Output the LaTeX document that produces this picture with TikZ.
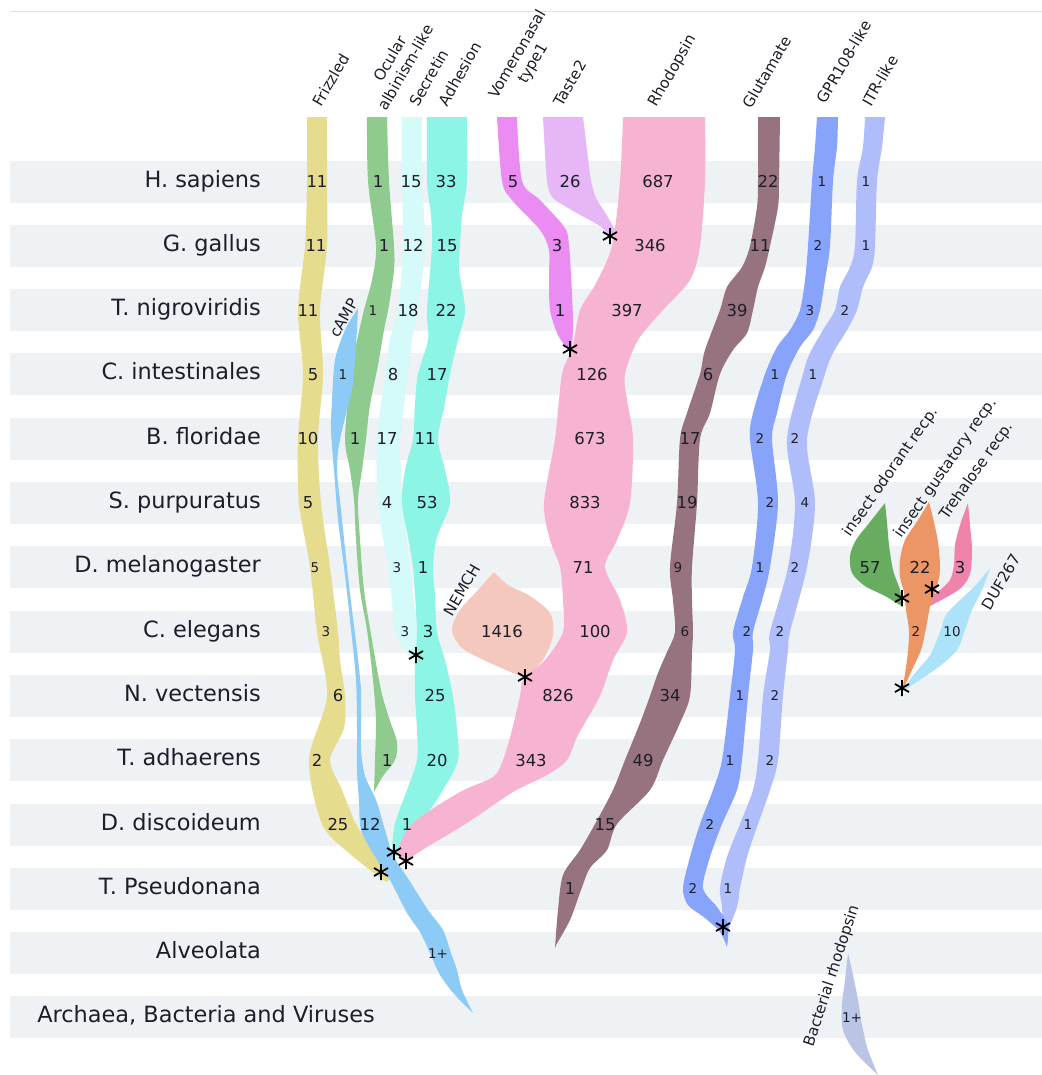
\documentclass[tikz,border=0pt]{standalone}
\usepackage{fontspec}
\setmainfont{DejaVu Sans}
\definecolor{stripe}{HTML}{EEF2F5}
\definecolor{cfz}{HTML}{E6DC8E}
\definecolor{coc}{HTML}{8FCA8F}
\definecolor{ccamp}{HTML}{8CCBF5}
\definecolor{csec}{HTML}{D4FAFA}
\definecolor{cadh}{HTML}{8CF5E6}
\definecolor{cvom}{HTML}{EA8CF2}
\definecolor{ctas}{HTML}{E6B6F6}
\definecolor{crho}{HTML}{F7B4D2}
\definecolor{cnem}{HTML}{F5C8BD}
\definecolor{cglu}{HTML}{97737F}
\definecolor{cgpr}{HTML}{88A3FA}
\definecolor{citr}{HTML}{AFBEFA}
\definecolor{cio}{HTML}{67AC5F}
\definecolor{cig}{HTML}{EB9664}
\definecolor{ctre}{HTML}{F083AC}
\definecolor{cduf}{HTML}{ADE3F8}
\definecolor{cbac}{HTML}{BAC5E6}
\definecolor{txt}{HTML}{1E1E2A}
\begin{document}
\begin{tikzpicture}[x=1bp,y=-1bp,
  num/.style={inner sep=0pt,text=txt,font=\fontsize{16.5}{19}\selectfont},
  species/.style={anchor=base east,inner sep=0pt,text=txt,font=\fontsize{22.5}{26}\selectfont},
  collab/.style={rotate=60,align=center,inner sep=0pt,text=txt,font=\fontsize{15.3}{18}\selectfont},
  ast/.pic={\draw[line width=1.8bp,black] (0,-8)--(0,8) (-7,-4)--(7,4) (-7,4)--(7,-4);}
]
\useasboundingbox (0,0) rectangle (1042,1075);
\fill[white] (0,0) rectangle (1042,1075);
\draw[line width=1bp,black!12] (10,11) -- (1042,11);
\foreach \k in {1,...,14}
  \fill[stripe] (10,{117.2+64.3*\k-21}) rectangle (1042,{117.2+64.3*\k+21});

% species
\foreach \s [count=\k] in {H. sapiens,G. gallus,T. nigroviridis,C. intestinales,B. floridae,S. purpuratus,D. melanogaster,C. elegans,N. vectensis,T. adhaerens,D. discoideum,T. Pseudonana,Alveolata}
  \node[species] (sp\k) at (261,{122.7+64.3*\k}) {\s};
\node[species,anchor=base] (sp14) at (206,{122.7+64.3*14}) {Archaea, Bacteria and Viruses};

% Frizzled
\fill[cfz] plot[smooth] coordinates {(307,117) (307,181) (305,246) (298,310) (303,374) (298,439) (299,503) (310,567) (317,632) (327,696) (309,760) (322,824) (350,854) (386,882)}
  -- plot[smooth] coordinates {(392,878) (372,850) (355,822) (342,790) (330,760) (344,728) (345,696) (340,660) (338,632) (330,567) (321,503) (318,439) (323,374) (320,310) (327,246) (327,181) (327,117)} -- cycle;
% Ocular albinism-like
\fill[coc] plot[smooth] coordinates {(367,117) (368,181) (376,246) (372,280) (364,310) (356,345) (350,380) (345,439) (350,470) (354,500) (356,540) (360,590) (367,630) (373,680) (376,720) (375,760) (374,792)}
  -- plot[smooth] coordinates {(374,792) (383,776) (395,760) (397,742) (389,718) (381,690) (372,640) (364,590) (360,540) (358,500) (362,470) (366,439) (370,405) (378,365) (384,330) (389,305) (394,270) (394,246) (389,181) (387,117)} -- cycle;
% Secretin
\fill[csec] plot[smooth] coordinates {(402,117) (402,181) (403,246) (398,310) (390,340) (385,374) (377,439) (378,503) (388,567) (392,600) (395,632) (411,660)}
  -- plot[smooth] coordinates {(415,656) (417,632) (413,595) (410,567) (403,503) (401,470) (400,439) (408,374) (412,340) (418,310) (425,246) (422,181) (422,117)} -- cycle;
% Adhesion
\fill[cadh] plot[smooth] coordinates {(427,117) (427,181) (431,215) (432,246) (427,310) (428,340) (418,374) (415,403) (413,439) (405,470) (402,503) (408,537) (413,567) (415,595) (417,632) (415,660) (415,696) (417,730) (417,760) (407,790) (395,824) (391,858)}
  -- plot[smooth] coordinates {(397,855) (420,824) (443,790) (458,760) (457,730) (453,696) (445,660) (437,632) (435,595) (433,567) (437,537) (450,503) (445,470) (438,439) (445,403) (450,374) (458,340) (465,310) (459,270) (460,246) (462,215) (467,181) (467,117)} -- cycle;
% Vomeronasal type1
\fill[cvom] plot[smooth] coordinates {(497,117) (502,181) (512,200) (540,230) (549,250) (549,275) (550,310) (558,335) (569,351)}
  -- plot[smooth] coordinates {(572,348) (573,320) (571,275) (569,246) (565,228) (540,200) (522,181) (517,117)} -- cycle;
% Taste2
\fill[ctas] plot[smooth,tension=0.4] coordinates {(543,117) (547,181) (553,198) (575,212) (600,226) (611,238)}
  -- plot[smooth,tension=0.4] coordinates {(615,230) (606,214) (596,198) (591,181) (587,150) (583,117)} -- cycle;
% NEMCH
\fill[cnem] plot[smooth] coordinates {(494,572) (478,590) (460,610) (452,630) (462,648) (490,663) (525,678)}
  -- plot[smooth] coordinates {(525,678) (543,660) (553,635) (550,613) (530,596) (508,585) (494,572)} -- cycle;
% Rhodopsin
\fill[crho] plot[smooth] coordinates {(623,117) (620,181) (612,246) (595,285) (580,310) (572,349) (562,374) (555,439) (544,503) (550,540) (560,567) (563,600) (563,632) (545,660) (524,678) (520,696) (512,730) (503,760) (493,777) (460,792) (413,823) (398,850) (404,863)}
  -- plot[smooth] coordinates {(410,858) (427,847) (467,823) (513,792) (547,775) (567,760) (578,735) (600,696) (613,660) (627,632) (620,600) (605,567) (617,540) (630,503) (633,439) (627,400) (625,374) (638,340) (663,310) (690,280) (700,246) (705,181) (705,117)} -- cycle;
% cAMP
\fill[ccamp] plot[smooth] coordinates {(358,308) (345,330) (335,360) (332,400) (331,430) (334,470) (338,520) (344,567) (350,620) (356,680) (357,730) (357,770) (359,800) (361,830) (374,855) (390,880) (407,913) (420,932) (430,953) (440,975) (455,995) (473,1013)}
  -- plot[smooth] coordinates {(473,1013) (462,990) (457,970) (450,950) (443,930) (428,910) (409,880) (393,855) (385,830) (376,800) (365,776) (361,750) (361,720) (361,690) (357,650) (352,610) (347,567) (341,510) (337,470) (339,445) (345,418) (352,390) (355,360) (357,330) (358,308)} -- cycle;
% Glutamate
\fill[cglu] plot[smooth] coordinates {(758,117) (758,181) (757,207) (750,246) (742,267) (727,287) (720,310) (705,350) (700,374) (687,413) (680,439) (677,503) (670,567) (673,600) (675,632) (667,652) (658,673) (650,696) (640,723) (625,760) (613,790) (595,824) (580,850) (563,875) (558,910) (555,948)}
  -- plot[smooth] coordinates {(556,945) (570,920) (581,890) (590,868) (607,850) (617,824) (650,790) (663,760) (680,723) (690,696) (692,652) (693,632) (692,600) (692,567) (697,503) (700,439) (710,413) (720,374) (733,350) (747,333) (753,310) (758,287) (765,267) (770,246) (778,207) (779,181) (780,117)} -- cycle;
% ITR-like
\fill[citr] plot[smooth] coordinates {(865,117) (863,147) (857,181) (855,246) (850,267) (840,287) (835,310) (823,330) (810,353) (803,374) (787,439) (795,503) (788,567) (770,632) (770,650) (763,696) (758,760) (753,790) (740,824) (727,857) (720,888) (722,907) (723,932)}
  -- plot[smooth] coordinates {(726,935) (737,907) (740,888) (747,857) (758,824) (770,790) (778,760) (783,696) (788,650) (790,632) (807,567) (815,503) (807,439) (825,374) (833,353) (847,330) (857,310) (863,287) (872,267) (875,246) (877,181) (882,147) (885,117)} -- cycle;
% GPR108-like
\fill[cgpr] plot[smooth] coordinates {(817,117) (815,147) (812,181) (808,246) (805,280) (800,310) (790,330) (777,347) (765,374) (753,413) (750,439) (758,503) (752,567) (743,597) (733,632) (735,650) (730,696) (722,760) (713,790) (700,824) (690,857) (683,888) (688,905) (705,918) (720,932) (727,947)}
  -- plot[smooth] coordinates {(727,947) (728,925) (717,907) (703,888) (710,857) (722,824) (737,790) (742,760) (748,696) (753,650) (753,632) (763,597) (770,567) (778,503) (772,439) (777,413) (787,374) (800,347) (813,330) (820,310) (825,280) (830,246) (833,181) (837,147) (838,117)} -- cycle;
% insect odorant recp.
\fill[cio] plot[smooth] coordinates {(885,503) (870,522) (856,540) (850,556) (852,573) (865,586) (885,596) (903,607)}
  -- plot[smooth] coordinates {(903,607) (900,590) (893,570) (889,545) (887,522) (885,503)} -- cycle;
% Trehalose recp.
\fill[ctre] plot[smooth] coordinates {(968,503) (960,525) (955,545) (954,565) (950,580) (940,590) (930,598) (926,608)}
  -- plot[smooth] coordinates {(926,608) (945,598) (961,588) (970,574) (972,550) (970,525) (968,503)} -- cycle;
% DUF267
\fill[cduf] plot[smooth] coordinates {(990,568) (976,585) (960,600) (946,615) (940,632) (930,655) (915,673) (902,692)}
  -- plot[smooth] coordinates {(902,692) (918,681) (940,666) (957,650) (965,630) (972,610) (982,590) (990,568)} -- cycle;
% insect gustatory recp.
\fill[cig] plot[smooth] coordinates {(929,502) (918,520) (905,540) (900,560) (900,577) (904,592) (906,610) (909,632) (907,660) (902,692)}
  -- plot[smooth] coordinates {(902,692) (911,672) (921,650) (926,628) (930,607) (936,590) (940,570) (938,542) (933,518) (929,502)} -- cycle;
% Bacterial rhodopsin
\fill[cbac] plot[smooth] coordinates {(848,953) (845,980) (842,1005) (843,1030) (855,1052) (878,1075)}
  -- plot[smooth] coordinates {(878,1075) (868,1050) (862,1025) (858,1000) (853,975) (848,953)} -- cycle;

% numbers
\foreach \x/\r/\t/\fs [count=\i] in {
 317/1/11/16.5, 316/2/11/16.5, 308/3/11/16.5, 313/4/5/16.5, 308/5/10/16.5, 308/6/5/16.5, 315/7/5/13.5, 326/8/3/13.5, 338/9/6/16.5, 317/10/2/16.5, 338/11/25/16.5,
 378/1/1/16.5, 384/2/1/16.5, 373/3/1/13.5, 355/5/1/16.5, 387/10/1/16.5,
 343/4/1/13.5, 370/11/12/16.5, 438/13/1+/13.5,
 411/1/15/16.5, 413/2/12/16.5, 408/3/18/16.5, 393/4/8/16.5, 387/5/17/16.5, 387/6/4/16.5, 397/7/3/13.5, 405/8/3/13.5,
 446/1/33/16.5, 447/2/15/16.5, 446/3/22/16.5, 437/4/17/16.5, 425/5/11/16.5, 427/6/53/16.5, 423/7/1/16.5, 428/8/3/16.5, 435/9/25/16.5, 437/10/20/16.5, 407/11/1/16.5,
 513/1/5/16.5, 557/2/3/16.5, 560/3/1/16.5,
 570/1/26/16.5,
 658/1/687/16.5, 650/2/346/16.5, 627/3/397/16.5, 592/4/126/16.5, 590/5/673/16.5, 585/6/833/16.5, 583/7/71/16.5, 595/8/100/16.5, 558/9/826/16.5, 531/10/343/16.5,
 502/8/1416/16.5,
 768/1/22/16.5, 760/2/11/16.5, 737/3/39/16.5, 708/4/6/16.5, 690/5/17/16.5, 687/6/19/16.5, 678/7/9/13.5, 685/8/6/13.5, 670/9/34/16.5, 643/10/49/16.5, 605/11/15/16.5, 570/12/1/16.5,
 822/1/1/13.5, 818/2/2/13.5, 810/3/3/13.5, 775/4/1/13.5, 760/5/2/13.5, 770/6/2/13.5, 760/7/1/13.5, 747/8/2/13.5, 740/9/1/13.5, 730/10/1/13.5, 710/11/2/13.5, 693/12/2/13.5,
 866/1/1/13.5, 866/2/1/13.5, 845/3/2/13.5, 813/4/1/13.5, 795/5/2/13.5, 805/6/4/13.5, 795/7/2/13.5, 780/8/2/13.5, 775/9/2/13.5, 770/10/2/13.5, 748/11/1/13.5, 728/12/1/13.5,
 870/7/57/16.5, 920/7/22/16.5, 960/7/3/16.5, 916/8/2/13.5, 952/8/10/13.5, 852/14/1+/13.5}
  \node[num,font=\fontsize{\fs}{19}\selectfont] (n\i) at (\x,{117.2+64.3*\r}) {\t};

% column labels
\node[collab] (lfz) at (331,80) {Frizzled};
\node[collab] (loc) at (398,63) {Ocular\\albinism-like};
\node[collab] (lsec) at (429,78) {Secretin};
\node[collab] (ladh) at (460,74) {Adhesion};
\node[collab] (lvom) at (526,59) {Vomeronasal\\type1};
\node[collab] (ltas) at (570,83) {Taste2};
\node[collab] (lrho) at (673,71) {Rhodopsin};
\node[collab] (lglu) at (767,72) {Glutamate};
\node[collab] (lgpr) at (844,62) {GPR108-like};
\node[collab] (litr) at (880,81) {ITR-like};
\node[collab] (lcamp) at (344,318) {cAMP};
\node[collab] (lnem) at (462,590) {NEMCH};
\node[collab,rotate=-5] (lio) at (891,472) {insect odorant recp.};
\node[collab,rotate=-5] (lig) at (946,468) {insect gustatory recp.};
\node[collab,rotate=-5] (ltre) at (977,471) {Trehalose recp.};
\node[collab] (lduf) at (1001,582) {DUF267};
\node[collab,rotate=12] (lbac) at (832,976) {Bacterial rhodopsin};

% asterisks
\foreach \ax/\ay in {610/236, 570/349, 416/655, 525/677, 394/852, 406/861, 381/872, 723/927, 902/598, 932/589, 902/688}
  \pic at (\ax,\ay) {ast};
\end{tikzpicture}
\end{document}
